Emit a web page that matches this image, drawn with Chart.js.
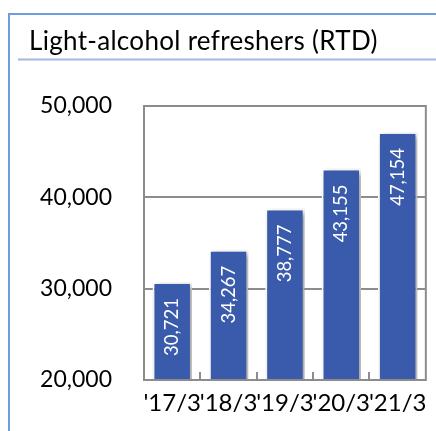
<!DOCTYPE html>
<html>
<head>
<meta charset="utf-8">
<script src="https://cdn.jsdelivr.net/npm/chart.js@4/dist/chart.umd.min.js"></script>
<style>
  body { margin: 0; background: #fff; }
  #wrap { width: 436px; height: 431px; position: relative; }
</style>
</head>
<body>
<div id="wrap"><canvas id="chart" width="436" height="431"></canvas></div>
<script>
  const title = 'Light-alcohol refreshers (RTD)';
  const periods = ["'17/3", "'18/3", "'19/3", "'20/3", "'21/3"];
  const volumes = [30721, 34267, 38777, 43155, 47154];
  const yTicks = [20000, 30000, 40000, 50000];

  const FONT = 'Lato, "Open Sans", sans-serif';
  const AXIS = '#8c8c8c';
  const fmt = (v) => v.toLocaleString('en-US');

  // frame, title and underline
  const framePlugin = {
    id: 'frame',
    beforeDraw(chart) {
      const ctx = chart.ctx;
      ctx.save();
      ctx.strokeStyle = '#6f9be0';
      ctx.lineWidth = 2;
      ctx.beginPath();
      ctx.moveTo(9, 431);
      ctx.lineTo(9, 14);
      ctx.lineTo(436, 14);
      ctx.stroke();
      ctx.strokeStyle = '#a3b6e2';
      ctx.beginPath();
      ctx.moveTo(18, 59.5);
      ctx.lineTo(436, 59.5);
      ctx.stroke();
      ctx.fillStyle = '#000';
      ctx.font = '26px ' + FONT;
      if ('letterSpacing' in ctx) ctx.letterSpacing = '0.3px';
      ctx.textBaseline = 'alphabetic';
      ctx.fillText(title, 29, 50);
      ctx.restore();
    },
  };

  // bar shadows
  const shadowPlugin = {
    id: 'barShadow',
    beforeDatasetsDraw(chart) {
      const ctx = chart.ctx;
      ctx.save();
      ctx.shadowColor = 'rgba(0,0,0,0.4)';
      ctx.shadowBlur = 6;
      ctx.shadowOffsetX = 3;
      ctx.shadowOffsetY = 2;
    },
    afterDatasetsDraw(chart) {
      chart.ctx.restore();
    },
  };

  // plot border, inner ticks and rotated value labels
  const decoPlugin = {
    id: 'deco',
    afterDatasetsDraw(chart) {
      const ctx = chart.ctx;
      const a = chart.chartArea;
      const x = chart.scales.x;
      ctx.save();
      ctx.strokeStyle = AXIS;
      ctx.lineWidth = 2;
      ctx.strokeRect(a.left, a.top, a.right - a.left, a.bottom - a.top);
      const step = (x.right - x.left) / periods.length;
      ctx.beginPath();
      for (let i = 1; i < periods.length; i++) {
        const px = Math.round(x.left + i * step);
        ctx.moveTo(px, a.bottom);
        ctx.lineTo(px, a.bottom - 8);
      }
      ctx.stroke();

      const meta = chart.getDatasetMeta(0);
      ctx.fillStyle = '#fff';
      ctx.font = '18.5px ' + FONT;
      ctx.textAlign = 'right';
      ctx.textBaseline = 'middle';
      meta.data.forEach((bar, i) => {
        ctx.save();
        ctx.translate(bar.x, bar.y + 16);
        ctx.rotate(-Math.PI / 2);
        ctx.fillText(fmt(volumes[i]), 0, 0);
        ctx.restore();
      });
      ctx.restore();
    },
  };

  new Chart(document.getElementById('chart'), {
    type: 'bar',
    data: {
      labels: periods,
      datasets: [
        {
          data: volumes,
          backgroundColor: '#3a5bab',
          borderColor: '#ffffff',
          borderWidth: 2,
          borderSkipped: false,
          barPercentage: 0.7,
          categoryPercentage: 1,
        },
      ],
    },
    options: {
      responsive: false,
      animation: false,
      devicePixelRatio: 1,
      layout: { padding: { top: 106, right: 6, left: 0, bottom: 0 } },
      plugins: { legend: { display: false }, tooltip: { enabled: false } },
      scales: {
        x: {
          grid: { display: false, drawTicks: false },
          border: { display: false },
          ticks: { color: '#000', font: { family: FONT, size: 24 }, padding: 9, maxRotation: 0, autoSkip: false },
          afterFit: (s) => { s.height = 51; },
        },
        y: {
          min: 20000,
          max: 50000,
          grid: { color: AXIS, lineWidth: 2, drawTicks: false },
          border: { display: false },
          afterBuildTicks: (s) => { s.ticks = yTicks.map((v) => ({ value: v })); },
          ticks: { color: '#000', font: { family: FONT, size: 23 }, padding: 32, callback: (v) => fmt(v) },
          afterFit: (s) => { s.width = 144; },
        },
      },
    },
    plugins: [framePlugin, shadowPlugin, decoPlugin],
  });
</script>
</body>
</html>
